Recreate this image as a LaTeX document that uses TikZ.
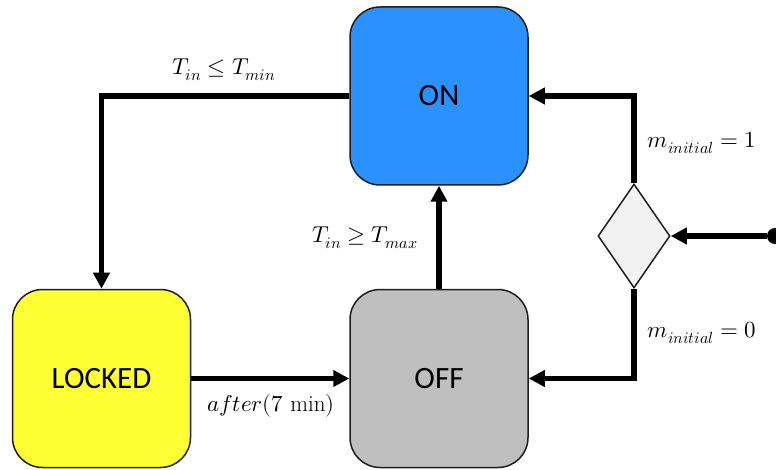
\documentclass[tikz,border=0pt]{standalone}
\usepackage{fontspec}
\usepackage{unicode-math}
\setmathfont{Latin Modern Math}
\newfontfamily\boxfont{Carlito}
\usetikzlibrary{shapes.geometric,arrows.meta}
\definecolor{onblue}{RGB}{42,145,255}
\definecolor{offgray}{RGB}{191,191,191}
\definecolor{lockyellow}{RGB}{255,255,51}
\definecolor{decgray}{RGB}{242,242,242}
\definecolor{edge}{RGB}{30,30,30}
\tikzset{
  state/.style={draw=edge, line width=1.5pt, rounded corners=30pt,
    minimum width=178pt, minimum height=178pt, inner sep=0pt,
    font=\boxfont\fontsize{31}{36}\selectfont},
  decision/.style={diamond, draw=edge, line width=1.5pt, fill=decgray,
    aspect=0.69, minimum width=72pt, minimum height=104pt, inner sep=0pt},
  flow/.style={line width=5.5pt, -{Triangle[length=16pt,width=16pt]}},
  cond/.style={font=\fontsize{23}{27}\selectfont}
}
\begin{document}
\begin{tikzpicture}[x=1pt,y=-1pt]
  \useasboundingbox (0,0) rectangle (776,470);
  % states
  \node[state, fill=onblue]     (on)     at (439,96)    {ON};
  \node[state, fill=offgray]    (off)    at (439,378.5) {OFF};
  \node[state, fill=lockyellow] (locked) at (101.5,378.5) {LOCKED};
  % initial choice
  \node[decision] (dec) at (634,236) {};
  \node[circle, fill=black, minimum size=16pt, inner sep=0pt] (start) at (775,236) {};
  % transitions
  \draw[flow] (on.west) -| (locked.north);
  \draw[flow] (off.north) -- (on.south);
  \draw[flow] (locked.east) -- (off.west);
  \draw[flow] (dec.north) |- (on.east);
  \draw[flow] (dec.south) |- (off.east);
  \draw[flow] (start) -- (dec.east);
  % guards
  \node[cond] (l1) at (224,70)  {$T_{in}\leq T_{min}$};
  \node[cond] (l2) at (365,238) {$T_{in}\geq T_{max}$};
  \node[cond] (l3) at (702,143) {$m_{initial}=1$};
  \node[cond] (l4) at (702,333) {$m_{initial}=0$};
  \node[cond] (l5) at (271,406) {$after(7\ \mathrm{min})$};
\end{tikzpicture}
\end{document}
